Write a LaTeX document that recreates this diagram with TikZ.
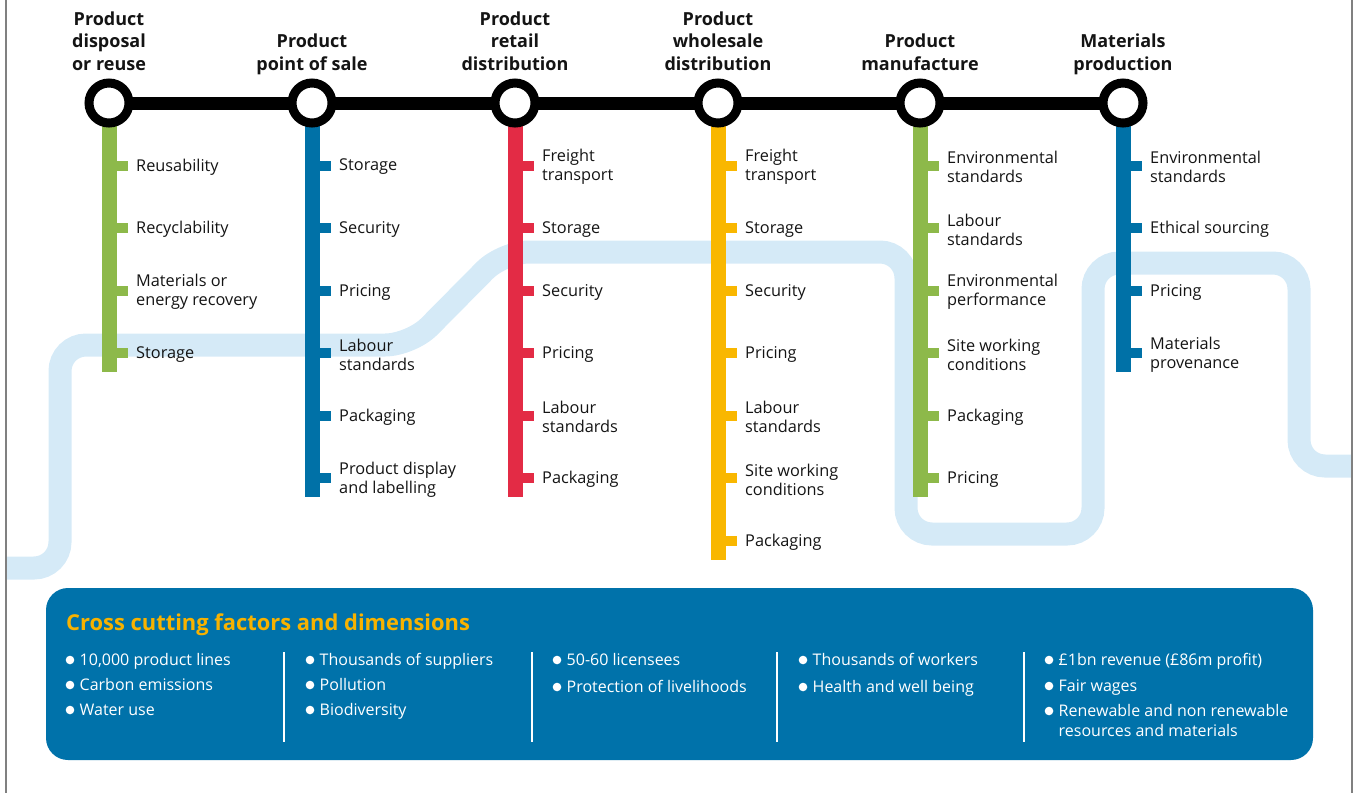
\documentclass[tikz,border=0pt]{standalone}
\usepackage{fontspec}
\setmainfont{Open Sans}
\usetikzlibrary{calc}
\definecolor{tgreen}{HTML}{8DB94A}
\definecolor{tblue}{HTML}{0071A7}
\definecolor{tred}{HTML}{E32B45}
\definecolor{tyellow}{HTML}{F9B700}
\definecolor{river}{HTML}{D5EAF7}
\definecolor{boxblue}{HTML}{0072AA}
\definecolor{titleyellow}{HTML}{F7B200}
\definecolor{ink}{HTML}{141414}
\newcommand\tubeline[4]{%
  \draw[branch,#2] (#1) -- ++(0,{62.5*#3+19}) coordinate (#1-end);
  \foreach [count=\i] \t in {#4} {
    \draw[tickmark,#2] ($(#1)+(0,{62.5*\i})$) coordinate (#1-\i) -- ++(19,0);
    \node[item] (#1-t\i) at ($(#1-\i)+(27,1.5)$) {\t};
  }%
}
\begin{document}
\begin{tikzpicture}[x=1pt,y=-1pt,
  riverpath/.style={line width=23pt, draw=river, rounded corners=26pt},
  stn/.style={circle, draw=black, line width=9pt, fill=white, minimum size=40pt, inner sep=0pt},
  hdr/.style={font=\fontsize{18}{22.5}\selectfont\bfseries, align=center, anchor=base, inner sep=0pt, text=ink},
  item/.style={font=\fontsize{16.3}{19}\selectfont, align=left, anchor=west, inner sep=0pt, text=ink},
  branch/.style={line width=15pt},
  tickmark/.style={line width=10pt},
  bul/.style={circle, fill=white, minimum size=8.6pt, inner sep=0pt},
  btext/.style={font=\fontsize{16}{20}\selectfont, align=left, anchor=base west, inner sep=0pt, text=white},
  divider/.style={draw=white, line width=1.5pt},
  border/.style={draw=black!50, line width=1.2pt}]
\useasboundingbox (0,0) rectangle (1356,793);
% river
\draw[riverpath] (6,568) -- (60,568) -- (60,345) -- (411,345) -- (503,252) -- (906,252) -- (906,534) -- (1093,534) -- (1093,263) -- (1299,263) -- (1299,466) -- (1352,466);
% borders
\coordinate (bl1) at (6,0); \coordinate (bl2) at (6,793);
\coordinate (br1) at (1352,0); \coordinate (br2) at (1352,793);
\draw[border] (bl1) -- (bl2);
\draw[border] (br1) -- (br2);
% station coordinates
\coordinate (p1) at (109,103);
\coordinate (p2) at (312,103);
\coordinate (p3) at (515,103);
\coordinate (p4) at (718,103);
\coordinate (p5) at (920,103);
\coordinate (p6) at (1123,103);
\draw[line width=13pt, black] (p1) -- (p6);
% branches
\tubeline{p1}{tgreen}{4}{Reusability, Recyclability, {Materials or\\energy recovery}, Storage}
\tubeline{p2}{tblue}{6}{Storage, Security, Pricing, {Labour\\standards}, Packaging, {Product display\\and labelling}}
\tubeline{p3}{tred}{6}{{Freight\\transport}, Storage, Security, Pricing, {Labour\\standards}, Packaging}
\tubeline{p4}{tyellow}{7}{{Freight\\transport}, Storage, Security, Pricing, {Labour\\standards}, {Site working\\conditions}, Packaging}
\tubeline{p5}{tgreen}{6}{{Environmental\\standards}, {Labour\\standards}, {Environmental\\performance}, {Site working\\conditions}, Packaging, Pricing}
\tubeline{p6}{tblue}{4}{{Environmental\\standards}, {Ethical sourcing}, Pricing, {Materials\\provenance}}
% stations
\foreach \k in {1,...,6} { \node[stn] (s\k) at (p\k) {}; }
% headers
\node[hdr] (h1) at (109,70) {Product\\disposal\\or reuse};
\node[hdr] (h2) at (312,70) {Product\\point of sale};
\node[hdr] (h3) at (515,70) {Product\\retail\\distribution};
\node[hdr] (h4) at (718,70) {Product\\wholesale\\distribution};
\node[hdr] (h5) at (920,70) {Product\\manufacture};
\node[hdr] (h6) at (1123,70) {Materials\\production};
% box
\node[fill=boxblue, rounded corners=22pt, minimum width=1267pt, minimum height=172pt, inner sep=0pt] (box) at (679.5,674) {};
\node[anchor=base west, inner sep=0pt, text=titleyellow, font=\fontsize{21.9}{24}\selectfont\bfseries] (title) at (66,630) {Cross cutting factors and dimensions};
\foreach \x/\n in {284/1,532/2,777/3,1024/4} {
  \coordinate (d\n a) at (\x,652); \coordinate (d\n b) at (\x,742);
  \draw[divider] (d\n a) -- (d\n b);
}
% bullets
\foreach \x/\y/\n/\o/\t in {
  70/660/a1/0/{10,000 product lines}, 70/685/a2/0/{Carbon emissions}, 70/710/a3/0/{Water use},
  310/660/b1/0/{Thousands of suppliers}, 310/685/b2/0/{Pollution}, 310/710/b3/0/{Biodiversity},
  557/660/c1/0/{50-60 licensees}, 557/687/c2/0/{Protection of livelihoods},
  803/660/e1/0/{Thousands of workers}, 803/687/e2/0/{Health and well being},
  1049/660/f1/0/{£1bn revenue (£86m profit)}, 1049/686/f2/0/{Fair wages}, 1049/711/f3/20/{Renewable and non renewable\\resources and materials}} {
  \node[bul] (bul\n) at (\x,\y) {};
  \node[btext] (txt\n) at ($(bul\n)+(9.5,{5.8+\o})$) {\t};
}
\end{tikzpicture}
\end{document}
